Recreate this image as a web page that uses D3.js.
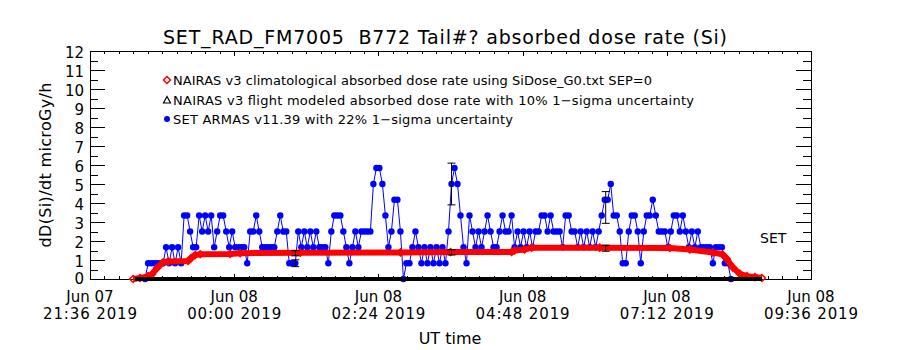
<!DOCTYPE html>
<html>
<head>
<meta charset="utf-8">
<script src="https://cdn.jsdelivr.net/npm/d3@7"></script>
<style>
  body { margin: 0; background: #fff; }
  text { font-family: "DejaVu Sans", sans-serif; fill: #000; }
</style>
</head>
<body>
<div id="chart"></div>
<script>
// ARMAS samples: start time, cadence (minutes) and dose rate values
var armasStart = "2019-06-07 22:31";
var armasStep = 3;
var armasValues = [
  0, 0.83, 0.83, 0.83, 0.83, 0.83, 0.83, 1.67, 0.83, 1.67,
  0.83, 1.67, 0.83, 3.34, 3.34, 2.5, 1.67, 1.67, 3.34, 2.5,
  3.34, 2.5, 3.34, 1.67, 2.5, 3.34, 3.34, 2.5, 1.67, 2.5,
  1.67, 1.67, 1.67, 1.67, 0.83, 2.5, 2.5, 3.34, 2.5, 1.67,
  1.67, 1.67, 1.67, 1.67, 2.5, 3.34, 2.5, 2.5, 0.83, 0.83,
  0.83, 2.5, 1.67, 2.5, 1.67, 2.5, 1.67, 2.5, 1.67, 1.67,
  1.67, 0.83, 2.5, 3.34, 3.34, 3.34, 2.5, 1.67, 0.83, 1.67,
  2.5, 1.67, 2.5, 2.5, 2.5, 2.5, 5.0, 5.84, 5.84, 5.0,
  3.34, 1.67, 2.5, 4.17, 4.17, 2.5, 0, 0.83, 0.83, 1.67,
  2.5, 1.67, 0.83, 1.67, 0.83, 1.67, 0.83, 1.67, 0.83, 1.67,
  0.83, 2.5, 5.0, 5.84, 5.0, 3.34, 1.67, 0.83, 3.34, 2.5,
  1.67, 2.5, 1.67, 2.5, 3.34, 2.5, 1.67, 1.67, 2.5, 3.34,
  2.5, 2.5, 3.34, 1.67, 2.5, 1.67, 2.5, 1.67, 2.5, 1.67,
  2.5, 2.5, 3.34, 3.34, 2.5, 3.34, 2.5, 2.5, 2.5, 1.67,
  3.34, 3.34, 2.5, 2.5, 1.67, 2.5, 1.67, 2.5, 1.67, 2.5,
  1.67, 2.5, 3.34, 4.17, 4.17, 5.0, 3.34, 3.34, 2.5, 0.83,
  0.83, 2.5, 3.34, 3.34, 2.5, 0.83, 2.5, 3.34, 3.34, 4.17,
  3.34, 2.5, 2.5, 2.5, 1.67, 2.5, 3.34, 3.34, 2.5, 3.34,
  2.5, 1.67, 2.5, 1.67, 2.5, 1.67, 1.67, 1.67, 1.67, 0.83,
  1.67, 1.67, 1.67, 0.83, 0.83, 0
];

// NAIRAS climatological
var nairasTimes = [
  "2019-06-07 22:19", "2019-06-07 22:26", "2019-06-07 22:34", "2019-06-07 22:38",
  "2019-06-07 22:43", "2019-06-07 22:49", "2019-06-07 22:54", "2019-06-07 23:14",
  "2019-06-07 23:17", "2019-06-07 23:21", "2019-06-07 23:26", "2019-06-07 23:56",
  "2019-06-08 00:06", "2019-06-08 01:06", "2019-06-08 02:46", "2019-06-08 03:36",
  "2019-06-08 04:37", "2019-06-08 04:40", "2019-06-08 04:50", "2019-06-08 04:57",
  "2019-06-08 06:05", "2019-06-08 07:15", "2019-06-08 07:35", "2019-06-08 07:58",
  "2019-06-08 08:08", "2019-06-08 08:12", "2019-06-08 08:18", "2019-06-08 08:25",
  "2019-06-08 08:32", "2019-06-08 08:40", "2019-06-08 08:47"
];
var nairasValues = [
  0, 0.05, 0.15, 0.25, 0.58, 0.88, 0.92, 0.95, 1.1, 1.26, 1.3, 1.32,
  1.36, 1.38, 1.4, 1.42, 1.42, 1.5, 1.55, 1.65, 1.65, 1.63, 1.55, 1.4,
  1.28, 1.05, 0.6, 0.27, 0.15, 0.1, 0.05
];

// NAIRAS flight modeled
var flightTimes = ["2019-06-07 22:21", "2019-06-08 08:47"];
var flightValues = [0, 0];

// error bars
var errTimes = ["2019-06-08 01:01", "2019-06-08 01:01", "2019-06-08 03:37",
                "2019-06-08 03:37", "2019-06-08 06:11", "2019-06-08 06:11"];
var errLow = [0.65, 1.22, 3.9, 1.26, 2.93, 1.46];
var errHigh = [1.01, 1.49, 6.1, 1.54, 4.6, 1.78];

var xTickTimes = ["2019-06-07 21:36", "2019-06-08 00:00", "2019-06-08 02:24",
                  "2019-06-08 04:48", "2019-06-08 07:12", "2019-06-08 09:36"];
var yTicks = [0, 1, 2, 3, 4, 5, 6, 7, 8, 9, 10, 11, 12];

var legendLabels = [
  "NAIRAS v3 climatological absorbed dose rate using SiDose_G0.txt SEP=0",
  "NAIRAS v3 flight modeled absorbed dose rate with 10% 1\u2212sigma uncertainty",
  "SET ARMAS v11.39 with 22% 1\u2212sigma uncertainty"
];

var parse = d3.utcParse("%Y-%m-%d %H:%M");

var pL = 90, pR = 811, pT = 51, pB = 279;

var svg = d3.select("#chart").append("svg")
    .attr("width", 900)
    .attr("height", 350);

svg.append("rect").attr("width", 900).attr("height", 350).attr("fill", "#fff");

var x = d3.scaleUtc()
    .domain([parse(xTickTimes[0]), parse(xTickTimes[xTickTimes.length - 1])])
    .range([pL, pR]);
var y = d3.scaleLinear().domain([0, 12]).range([pB, pT]);

var xMajor = xTickTimes.map(parse);
var xMinor = [];
// minor ticks: 10 per major interval
for (var i = 0; i < xMajor.length - 1; i++) {
  for (var k = 1; k < 10; k++) {
    xMinor.push(new Date(+xMajor[i] + (xMajor[i + 1] - xMajor[i]) * k / 10));
  }
}
var yMinor = yTicks.slice(0, -1).map(d => d + 0.5);

// axes (ticks point inward)
function noLabels(g) { g.select(".domain").remove(); g.selectAll("text").remove(); }

svg.append("g").attr("transform", `translate(0,${pB})`)
    .call(d3.axisBottom(x).tickValues(xMajor).tickSize(-5)).call(noLabels);
svg.append("g").attr("transform", `translate(0,${pB})`)
    .call(d3.axisBottom(x).tickValues(xMinor).tickSize(-3)).call(noLabels);
svg.append("g").attr("transform", `translate(0,${pT})`)
    .call(d3.axisTop(x).tickValues(xMajor).tickSize(-5)).call(noLabels);
svg.append("g").attr("transform", `translate(0,${pT})`)
    .call(d3.axisTop(x).tickValues(xMinor).tickSize(-3)).call(noLabels);

svg.append("g").attr("transform", `translate(${pL},0)`)
    .call(d3.axisLeft(y).tickValues(yTicks).tickSize(-15)).call(noLabels);
svg.append("g").attr("transform", `translate(${pL},0)`)
    .call(d3.axisLeft(y).tickValues(yMinor).tickSize(-8)).call(noLabels);
svg.append("g").attr("transform", `translate(${pR},0)`)
    .call(d3.axisRight(y).tickValues(yTicks).tickSize(-15)).call(noLabels);
svg.append("g").attr("transform", `translate(${pR},0)`)
    .call(d3.axisRight(y).tickValues(yMinor).tickSize(-8)).call(noLabels);

svg.selectAll(".tick line").attr("stroke", "#000").attr("shape-rendering", "crispEdges");

svg.append("rect")
    .attr("x", pL).attr("y", pT)
    .attr("width", pR - pL).attr("height", pB - pT)
    .attr("fill", "none").attr("stroke", "#000")
    .attr("shape-rendering", "crispEdges");

// tick labels
svg.append("g").selectAll("text")
    .data(yTicks).enter().append("text")
    .attr("x", pL - 6)
    .attr("y", d => Math.min(y(d) + 7, pB + 5))
    .attr("text-anchor", "end")
    .style("font-size", "15px")
    .text(d => d);

var fmtDay = d3.utcFormat("%b %d"), fmtTime = d3.utcFormat("%H:%M %Y");
var xlab = svg.append("g").style("font-size", "15px").attr("text-anchor", "middle");
xlab.selectAll("text.day")
    .data(xMajor).enter().append("text")
    .attr("class", "day")
    .attr("x", d => x(d)).attr("y", 302)
    .text(d => fmtDay(d));
xlab.selectAll("text.time")
    .data(xMajor).enter().append("text")
    .attr("class", "time")
    .attr("x", d => x(d)).attr("y", 319)
    .attr("textLength", 94)
    .text(d => fmtTime(d));

svg.append("text")
    .attr("x", 450).attr("y", 344)
    .attr("text-anchor", "middle")
    .style("font-size", "16px")
    .text("UT time");

svg.append("text")
    .attr("transform", "translate(51,165) rotate(-90)")
    .attr("text-anchor", "middle")
    .attr("textLength", 165)
    .style("font-size", "16px")
    .text("dD(Si)/dt microGy/h");

svg.append("text")
    .attr("x", 445).attr("y", 44)
    .attr("text-anchor", "middle")
    .attr("textLength", 564)
    .style("font-size", "19px")
    .style("white-space", "pre")
    .text("SET_RAD_FM7005  B772 Tail#? absorbed dose rate (Si)");

// data
var armas = armasValues.map((v, i) => ({
  t: new Date(+parse(armasStart) + i * armasStep * 60000), v: v
}));
var nairas = nairasTimes.map((t, i) => ({ t: parse(t), v: nairasValues[i] }));
var flight = flightTimes.map((t, i) => ({ t: parse(t), v: flightValues[i] }));

var line = d3.line().x(d => x(d.t)).y(d => y(d.v));

var plot = svg.append("g");

plot.append("path")
    .datum(armas)
    .attr("d", line)
    .attr("fill", "none")
    .attr("stroke", "#0000ff")
    .attr("stroke-width", 1);

plot.append("g").selectAll("circle")
    .data(armas).enter().append("circle")
    .attr("cx", d => x(d.t))
    .attr("cy", d => y(d.v))
    .attr("r", 3.2)
    .attr("fill", "#0000ff");

plot.append("path")
    .datum(nairas)
    .attr("d", line)
    .attr("fill", "none")
    .attr("stroke", "#ff0000")
    .attr("stroke-width", 6)
    .attr("stroke-linejoin", "round");

var diamond = "M0,-3.5L3.5,0L0,3.5L-3.5,0Z";
plot.append("g").selectAll("path")
    .data(nairas).enter().append("path")
    .attr("transform", d => `translate(${x(d.t)},${y(d.v)})`)
    .attr("d", diamond)
    .attr("fill", "none")
    .attr("stroke", "#ff0000")
    .attr("stroke-width", 1.5);

plot.append("path")
    .datum(flight)
    .attr("d", line)
    .attr("fill", "none")
    .attr("stroke", "#000")
    .attr("stroke-width", 4);

// error bars
var eb = plot.append("g").attr("stroke", "#000").attr("stroke-width", 1);
errTimes.forEach(function(t, i) {
  var cx = x(parse(t)), y0 = y(errLow[i]), y1 = y(errHigh[i]);
  eb.append("line").attr("x1", cx).attr("x2", cx).attr("y1", y0).attr("y2", y1);
  eb.append("line").attr("x1", cx - 4).attr("x2", cx + 4).attr("y1", y0).attr("y2", y0);
  eb.append("line").attr("x1", cx - 4).attr("x2", cx + 4).attr("y1", y1).attr("y2", y1);
});

// legend
var legend = svg.append("g");
var ly = [80, 100, 119];
var legendWidths = [479, 521, 340];
legend.append("path").attr("transform", `translate(167,${ly[0]})`)
    .attr("d", diamond).attr("fill", "none").attr("stroke", "#ff0000").attr("stroke-width", 1.5);
legend.append("path").attr("transform", `translate(167,${ly[1]})`)
    .attr("d", "M0,-3.5L3.5,3L-3.5,3Z").attr("fill", "none").attr("stroke", "#000").attr("stroke-width", 1.2);
legend.append("circle").attr("cx", 167).attr("cy", ly[2]).attr("r", 3).attr("fill", "#0000ff");

legend.selectAll("text")
    .data(legendLabels).enter().append("text")
    .attr("x", 173)
    .attr("y", (d, i) => ly[i] + 5)
    .attr("textLength", (d, i) => legendWidths[i])
    .style("font-size", "13px")
    .text(d => d);

svg.append("text")
    .attr("x", 760).attr("y", 243)
    .style("font-size", "14px")
    .text("SET");
</script>
</body>
</html>
